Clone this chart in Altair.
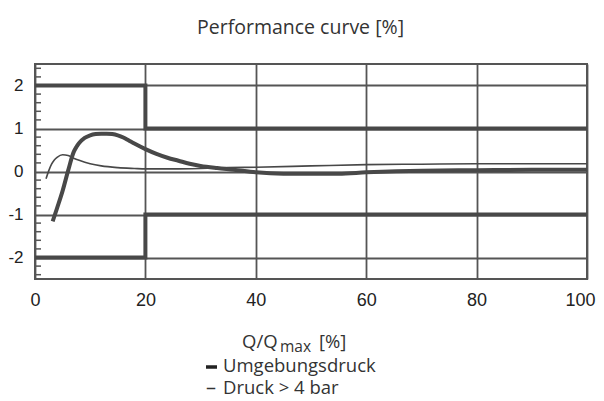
import altair as alt
import pandas as pd

# ---- data ----
thick_x = [3.2, 4, 5, 6, 7, 7.5, 8, 9, 10, 11, 12, 13, 14, 15, 16, 17, 18, 20, 22, 24, 26, 28, 30,
           33, 36, 40, 45, 50, 55, 60, 70, 80, 90, 100]
thick_y = [-1.16, -0.85, -0.45, 0.02, 0.45, 0.57, 0.66, 0.78, 0.84, 0.87, 0.88, 0.88, 0.87, 0.84,
           0.79, 0.72, 0.65, 0.52, 0.41, 0.32, 0.25, 0.18, 0.13, 0.08, 0.04, -0.02, -0.05, -0.05,
           -0.05, -0.02, 0.02, 0.03, 0.04, 0.04]
thin_x = [2, 2.5, 3, 3.5, 4, 5, 6, 7, 8, 10, 12, 15, 18, 20, 25, 30, 35, 40, 50, 60, 70, 80, 90, 100]
thin_y = [-0.17, 0.02, 0.17, 0.27, 0.33, 0.39, 0.37, 0.31, 0.26, 0.18, 0.13, 0.09, 0.07, 0.06,
          0.06, 0.07, 0.09, 0.1, 0.13, 0.16, 0.17, 0.18, 0.18, 0.18]
limit_x = [0, 20, 20, 100]
upper_limit = [2, 2, 1, 1]
lower_limit = [-2, -2, -1, -1]

x_ticks = [0, 20, 40, 60, 80, 100]
y_ticks = [-2, -1, 0, 1, 2]
minor_ticks = [-2.4, -2.2, -1.8, -1.6, -1.4, -1.2, -0.8, -0.6, -0.4, -0.2,
               0.2, 0.4, 0.6, 0.8, 1.2, 1.4, 1.6, 1.8, 2.2, 2.4]

title_text = ["Performance curve [%]"]
x_title_parts = ["Q/Q", "max", "[%]"]
thin_legend_mark = ["–"]
legend_labels = ["Umgebungsdruck", "Druck > 4 bar"]

GRAY = "#555555"
LINE = "#484848"
TEXT = "#333333"

xs = alt.Scale(domain=[0, 100], nice=False, zero=False)
ys = alt.Scale(domain=[-2.5, 2.5], nice=False, zero=False)

x_axis = alt.Axis(values=x_ticks, title=None, grid=True, ticks=False, tickSize=0, domain=False,
                  labelPadding=12, labelFontSize=18, labelFont="Liberation Sans",
                  labelColor="#222222", gridColor=GRAY, gridWidth=1.8, gridOpacity=1,
                  labelFlush=False, labelOverlap=False,
                  labelOffset={"condition": {"test": "datum.value === 100", "value": -7}, "value": 0})
y_axis = alt.Axis(values=y_ticks, title=None, grid=True, ticks=False, tickSize=0, domain=False,
                  labelPadding=12, labelFontSize=17, labelFont="Liberation Sans",
                  labelColor="#222222", gridColor=GRAY, gridWidth=1.8, gridOpacity=1,
                  labelFlush=False, labelOverlap=False,
                  labelExpr="replace(datum.label, '−', '-')")

limits = pd.DataFrame({
    "x": limit_x + limit_x,
    "y": upper_limit + lower_limit,
    "seg": ["upper"] * len(limit_x) + ["lower"] * len(limit_x),
    "i": list(range(len(limit_x))) * 2,
})
thick = pd.DataFrame({"x": thick_x, "y": thick_y})
thin = pd.DataFrame({"x": thin_x, "y": thin_y})
minor = pd.DataFrame({"y": minor_ticks})

limit_layer = alt.Chart(limits).mark_line(color=LINE, strokeWidth=4).encode(
    x=alt.X("x:Q", scale=xs, axis=x_axis),
    y=alt.Y("y:Q", scale=ys, axis=y_axis),
    detail="seg:N",
    order="i:Q",
)
thick_layer = alt.Chart(thick).mark_line(color=LINE, strokeWidth=4, interpolate="monotone").encode(
    x=alt.X("x:Q", scale=xs), y=alt.Y("y:Q", scale=ys)
)
thin_layer = alt.Chart(thin).mark_line(color=LINE, strokeWidth=1.6, interpolate="monotone").encode(
    x=alt.X("x:Q", scale=xs), y=alt.Y("y:Q", scale=ys)
)
minor_layer = alt.Chart(minor).mark_rule(color=GRAY, strokeWidth=1.5).encode(
    y=alt.Y("y:Q", scale=ys), x=alt.value(0), x2=alt.value(6)
)
# bold legend swatch for the thick line
swatch = alt.Chart(pd.DataFrame({"k": [legend_labels[0]]})).mark_rule(
    color="#222222", strokeWidth=3.5
).encode(x=alt.value(171), x2=alt.value(182), y=alt.value(303))


def label(text, x, y, size=18.5, weight="normal"):
    return alt.Chart(pd.DataFrame({"t": [text]})).mark_text(
        align="left", baseline="alphabetic", font="Open Sans", fontSize=size,
        fontWeight=weight, color=TEXT
    ).encode(x=alt.value(x), y=alt.value(y), text="t:N")


texts = [
    label(title_text[0], 162, -30, size=19.5),
    label(x_title_parts[0], 207, 284),
    label(x_title_parts[1], 245, 288, size=15.5),
    label(x_title_parts[2], 284, 284),
    label(legend_labels[0], 188, 308),
    label(thin_legend_mark[0], 171, 330, size=20),
    label(legend_labels[1], 188, 330),
]

chart = alt.layer(limit_layer, thick_layer, thin_layer, minor_layer, swatch, *texts).properties(
    width=552,
    height=215,
    autosize=alt.AutoSizeParams(type="none"),
    padding={"left": 27, "top": 56, "right": 9, "bottom": 122},
).configure_view(stroke=GRAY, strokeWidth=2)

chart.save("out.html", embed_options={"renderer": "svg", "actions": False})
